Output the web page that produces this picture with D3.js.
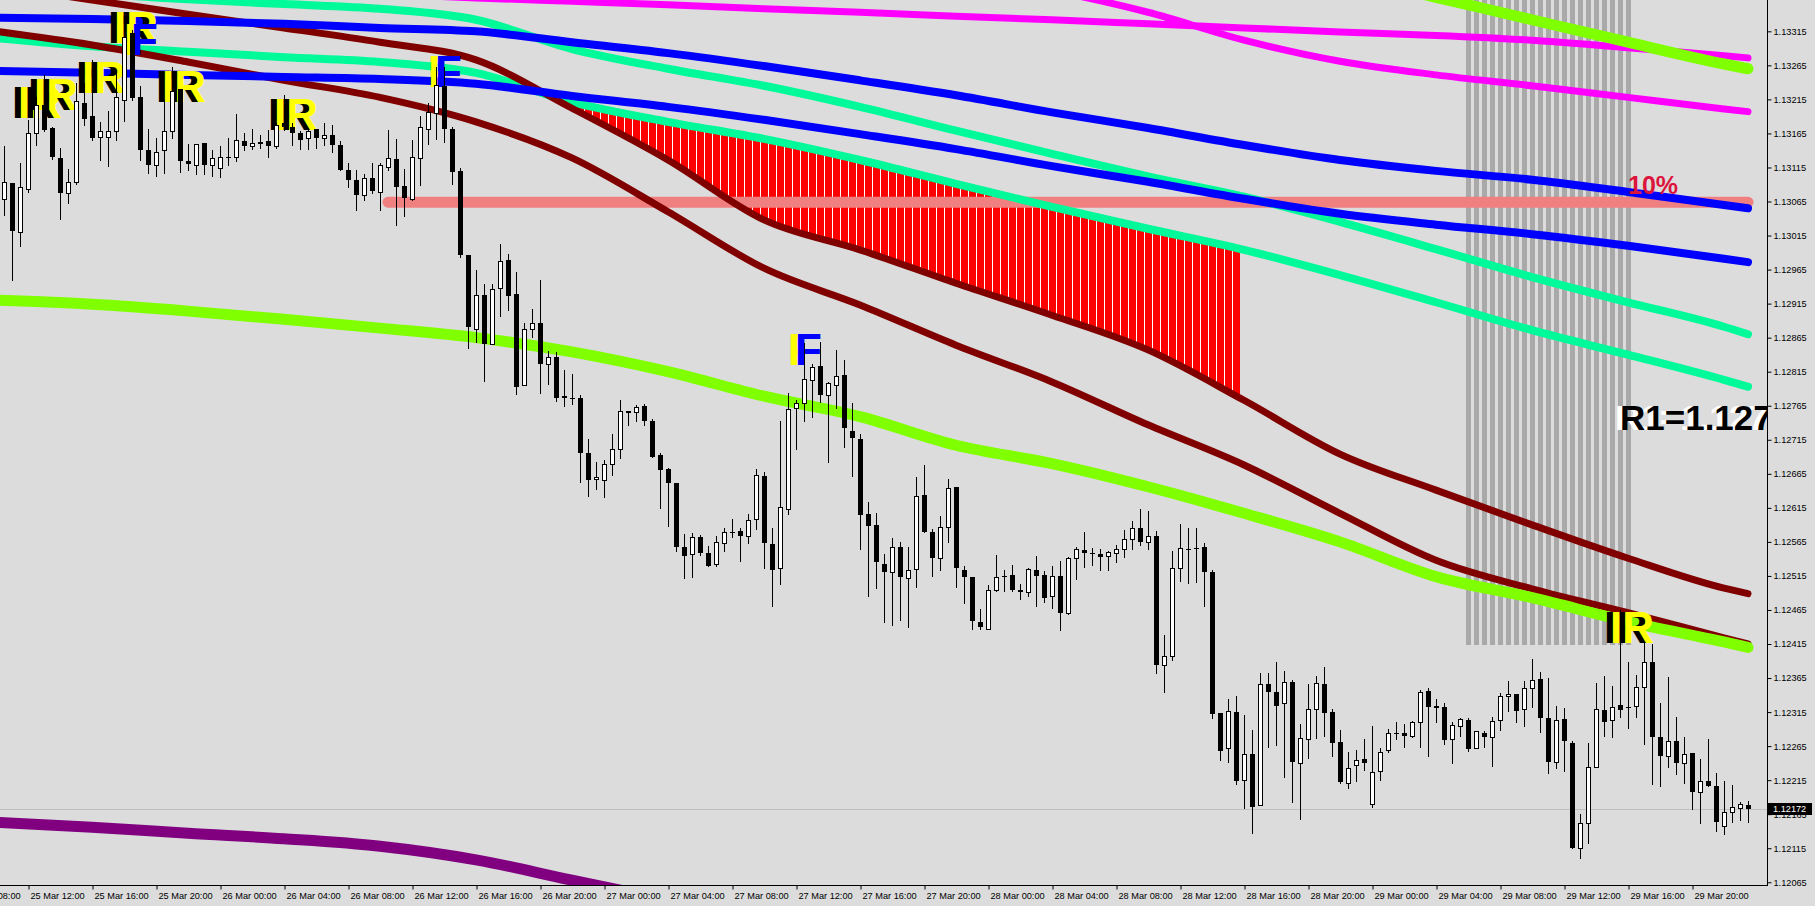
<!DOCTYPE html>
<html lang="en">
<head>
<meta charset="utf-8" />
<script src="https://cdn.jsdelivr.net/npm/d3@7/dist/d3.min.js"></script>
<style>
  html, body { margin: 0; padding: 0; background: #dcdcdc; overflow: hidden; }
  text { font-family: "Liberation Sans", Arial, sans-serif; }
</style>
</head>
<body>
<div id="container"></div>
<script>
const width = 1815, height = 906;
const plotRight = 1767, plotBottom = 885;

// EURUSD M30 candles, index 0 = 25 Mar 12:00, first visible index = -3
const firstIndex = -3;
const open = [1.13068,1.13092,1.13020,1.13084,1.13165,1.13207,1.13173,1.13129,1.13077,1.13094,1.13209,1.13190,1.13160,
  1.13160,1.13168,1.13214,1.13312,1.13218,1.13141,1.13118,1.13140,1.13168,1.13231,
  1.13125,1.13118,1.13151,1.13118,1.13114,1.13130,1.13130,1.13154,1.13146,1.13151,
  1.13154,1.13146,1.13180,1.13175,1.13165,1.13158,1.13171,1.13159,1.13163,1.13148,
  1.13112,1.13097,1.13074,1.13099,1.13079,1.13115,1.13127,1.13088,1.13069,1.13129,
  1.13171,1.13195,1.13235,1.13171,1.13110,1.12986,1.12878,1.12927,1.12855,1.12938,
  1.12979,1.12929,1.12795,1.12877,1.12886,1.12826,1.12836,1.12779,1.12776,1.12776,
  1.12695,1.12657,1.12656,1.12679,1.12701,1.12758,1.12756,1.12765,1.12743,1.12693,
  1.12672,1.12651,1.12557,1.12547,1.12572,1.12549,1.12532,1.12564,1.12579,1.12581,
  1.12573,1.12598,1.12662,1.12562,1.12526,1.12614,1.12761,1.12769,1.12803,1.12823,
  1.12781,1.12796,1.12810,1.12728,1.12716,1.12606,1.12590,1.12533,1.12521,1.12557,
  1.12512,1.12525,1.12634,1.12579,1.12541,1.12587,1.12645,1.12524,1.12514,1.12447,
  1.12437,1.12494,1.12515,1.12516,1.12495,1.12492,1.12524,1.12516,1.12485,1.12515,
  1.12460,1.12542,1.12553,1.12548,1.12547,1.12544,1.12548,1.12554,1.12569,1.12585,
  1.12565,1.12574,1.12384,1.12398,1.12526,1.12555,1.12556,1.12558,1.12521,1.12313,
  1.12262,1.12315,1.12215,1.12253,1.12178,1.12356,1.12344,1.12328,1.12359,1.12240,
  1.12275,1.12319,1.12356,1.12315,1.12271,1.12211,1.12238,1.12246,1.12180,1.12228,
  1.12260,1.12284,1.12284,1.12280,1.12300,1.12346,1.12324,1.12322,1.12275,1.12295,
  1.12303,1.12262,1.12285,1.12279,1.12303,1.12338,1.12341,1.12319,1.12350,1.12363,
  1.12307,1.12242,1.12305,1.12269,1.12115,1.12152,1.12234,1.12318,1.12304,1.12325,
  1.12323,1.12324,1.12352,1.12388,1.12278,1.12250,1.12272,1.12240,1.12255,1.12198,
  1.12214,1.12207,1.12148,1.12168,1.12174,1.12179];
const high = [1.13146,1.13092,1.13121,1.13185,1.13219,1.13251,1.13175,1.13143,1.13113,1.13239,1.13239,1.13273,1.13182,
  1.13198,1.13258,1.13317,1.13317,1.13235,1.13171,1.13159,1.13214,1.13263,1.13231,
  1.13149,1.13149,1.13151,1.13140,1.13147,1.13159,1.13193,1.13165,1.13171,1.13163,
  1.13170,1.13180,1.13221,1.13180,1.13169,1.13173,1.13171,1.13180,1.13178,1.13154,
  1.13121,1.13111,1.13106,1.13121,1.13121,1.13170,1.13157,1.13113,1.13155,1.13191,
  1.13209,1.13263,1.13263,1.13174,1.13114,1.12986,1.12965,1.12944,1.12944,1.13003,
  1.12988,1.12962,1.12886,1.12907,1.12950,1.12846,1.12844,1.12818,1.12812,1.12781,
  1.12716,1.12682,1.12685,1.12724,1.12774,1.12758,1.12766,1.12768,1.12746,1.12695,
  1.12673,1.12651,1.12577,1.12578,1.12575,1.12559,1.12574,1.12585,1.12599,1.12585,
  1.12606,1.12672,1.12667,1.12586,1.12743,1.12783,1.12774,1.12857,1.12827,1.12858,
  1.12800,1.12847,1.12832,1.12769,1.12724,1.12624,1.12607,1.12547,1.12570,1.12565,
  1.12557,1.12661,1.12678,1.12584,1.12603,1.12657,1.12646,1.12530,1.12514,1.12466,
  1.12501,1.12546,1.12524,1.12531,1.12503,1.12527,1.12544,1.12522,1.12529,1.12537,
  1.12543,1.12558,1.12580,1.12556,1.12555,1.12551,1.12561,1.12583,1.12596,1.12613,
  1.12610,1.12581,1.12428,1.12552,1.12591,1.12585,1.12586,1.12563,1.12523,1.12313,
  1.12334,1.12338,1.12310,1.12289,1.12372,1.12372,1.12388,1.12376,1.12362,1.12297,
  1.12356,1.12368,1.12381,1.12319,1.12289,1.12257,1.12259,1.12276,1.12294,1.12262,
  1.12290,1.12300,1.12298,1.12302,1.12348,1.12350,1.12334,1.12329,1.12301,1.12307,
  1.12306,1.12287,1.12287,1.12308,1.12343,1.12361,1.12341,1.12360,1.12393,1.12374,
  1.12365,1.12324,1.12321,1.12273,1.12165,1.12269,1.12357,1.12368,1.12353,1.12465,
  1.12389,1.12370,1.12418,1.12415,1.12329,1.12366,1.12308,1.12278,1.12255,1.12246,
  1.12275,1.12225,1.12214,1.12208,1.12183,1.12185];
const low = [1.13045,1.12949,1.12999,1.13079,1.13148,1.13168,1.13127,1.13039,1.13063,1.13091,1.13177,1.13155,1.13126,
  1.13117,1.13155,1.13183,1.13214,1.13126,1.13107,1.13103,1.13107,1.13159,1.13109,
  1.13111,1.13106,1.13106,1.13103,1.13101,1.13118,1.13124,1.13140,1.13142,1.13143,
  1.13131,1.13143,1.13170,1.13148,1.13142,1.13142,1.13143,1.13148,1.13137,1.13111,
  1.13087,1.13053,1.13067,1.13077,1.13053,1.13111,1.13030,1.13043,1.13067,1.13089,
  1.13149,1.13157,1.13153,1.13091,1.12983,1.12850,1.12859,1.12802,1.12855,1.12897,
  1.12905,1.12782,1.12795,1.12866,1.12784,1.12797,1.12772,1.12764,1.12768,1.12653,
  1.12633,1.12643,1.12631,1.12663,1.12688,1.12736,1.12742,1.12736,1.12689,1.12615,
  1.12589,1.12551,1.12512,1.12513,1.12546,1.12529,1.12529,1.12552,1.12572,1.12537,
  1.12564,1.12584,1.12526,1.12471,1.12503,1.12606,1.12701,1.12743,1.12748,1.12770,
  1.12682,1.12761,1.12704,1.12662,1.12554,1.12486,1.12497,1.12447,1.12443,1.12450,
  1.12440,1.12499,1.12579,1.12515,1.12523,1.12565,1.12499,1.12475,1.12437,1.12437,
  1.12437,1.12493,1.12493,1.12493,1.12481,1.12485,1.12471,1.12476,1.12468,1.12435,
  1.12459,1.12510,1.12528,1.12531,1.12523,1.12523,1.12535,1.12543,1.12554,1.12560,
  1.12555,1.12372,1.12344,1.12391,1.12508,1.12504,1.12506,1.12471,1.12306,1.12244,
  1.12242,1.12209,1.12174,1.12138,1.12178,1.12263,1.12267,1.12219,1.12183,1.12158,
  1.12248,1.12277,1.12280,1.12251,1.12211,1.12203,1.12214,1.12230,1.12176,1.12215,
  1.12257,1.12275,1.12264,1.12278,1.12263,1.12250,1.12300,1.12268,1.12240,1.12280,
  1.12258,1.12262,1.12264,1.12236,1.12289,1.12316,1.12300,1.12294,1.12323,1.12286,
  1.12225,1.12233,1.12228,1.12115,1.12100,1.12122,1.12234,1.12280,1.12278,1.12308,
  1.12291,1.12308,1.12268,1.12209,1.12207,1.12235,1.12224,1.12211,1.12173,1.12152,
  1.12206,1.12141,1.12136,1.12154,1.12156,1.12153];
const close = [1.13093,1.13021,1.13086,1.13166,1.13207,1.13170,1.13130,1.13077,1.13093,1.13213,1.13186,1.13158,1.13168,
  1.13168,1.13218,1.13307,1.13217,1.13140,1.13118,1.13138,1.13168,1.13228,1.13124,
  1.13120,1.13149,1.13118,1.13129,1.13131,1.13129,1.13156,1.13146,1.13151,1.13153,
  1.13146,1.13177,1.13174,1.13165,1.13156,1.13169,1.13159,1.13163,1.13148,1.13111,
  1.13096,1.13074,1.13099,1.13080,1.13119,1.13129,1.13087,1.13070,1.13130,1.13174,
  1.13197,1.13236,1.13171,1.13109,1.12986,1.12880,1.12927,1.12855,1.12936,1.12977,
  1.12926,1.12793,1.12877,1.12886,1.12827,1.12836,1.12777,1.12776,1.12776,1.12695,
  1.12656,1.12660,1.12679,1.12701,1.12758,1.12755,1.12763,1.12742,1.12689,1.12670,
  1.12651,1.12557,1.12545,1.12572,1.12549,1.12530,1.12565,1.12579,1.12579,1.12573,
  1.12597,1.12663,1.12563,1.12523,1.12616,1.12760,1.12769,1.12805,1.12822,1.12781,
  1.12798,1.12809,1.12732,1.12717,1.12604,1.12588,1.12535,1.12521,1.12557,1.12513,
  1.12523,1.12632,1.12579,1.12541,1.12587,1.12644,1.12526,1.12513,1.12449,1.12440,
  1.12495,1.12513,1.12513,1.12495,1.12492,1.12525,1.12515,1.12483,1.12515,1.12460,
  1.12542,1.12555,1.12548,1.12547,1.12543,1.12550,1.12554,1.12569,1.12585,1.12565,
  1.12573,1.12384,1.12397,1.12527,1.12556,1.12555,1.12554,1.12521,1.12312,1.12258,
  1.12316,1.12214,1.12253,1.12175,1.12356,1.12345,1.12324,1.12359,1.12241,1.12277,
  1.12319,1.12357,1.12314,1.12269,1.12212,1.12233,1.12244,1.12240,1.12227,1.12257,
  1.12285,1.12284,1.12280,1.12300,1.12344,1.12323,1.12321,1.12274,1.12296,1.12305,
  1.12261,1.12287,1.12278,1.12302,1.12339,1.12341,1.12316,1.12350,1.12362,1.12306,
  1.12241,1.12303,1.12272,1.12115,1.12152,1.12234,1.12319,1.12301,1.12323,1.12318,
  1.12323,1.12352,1.12389,1.12279,1.12250,1.12272,1.12240,1.12253,1.12198,1.12214,
  1.12206,1.12153,1.12168,1.12175,1.12180,1.12172];

// indicator lines, sampled at these candle indices
const knotIdx = [-4, 8, 20, 32, 44, 56, 68, 80, 92, 104, 116, 128, 140, 152, 164, 176, 188, 200, 212, 215];
const limeLower = [1.12920,1.12914,1.12904,1.12892,1.12879,1.12865,1.12844,1.12815,1.12779,1.12749,1.12707,1.12680,1.12646,1.12607,1.12565,1.12514,1.12483,1.12448,1.12418,1.12410];
const limeUpper = [null,null,null,null,null,null,null,null,null,null,null,null,null,null,1.13398,1.13365,1.13332,1.13299,1.13267,1.13260];
const magentaUpper = [null,null,null,null,1.13370,1.13364,1.13359,1.13354,1.13348,1.13343,1.13337,1.13332,1.13326,1.13320,1.13314,1.13309,1.13302,1.13291,1.13279,1.13276];
const magentaLower = [null,null,null,null,null,null,null,null,null,null,1.13400,1.13375,1.13343,1.13302,1.13271,1.13251,1.13235,1.13218,1.13201,1.13197];
const blueUpper = [1.13335,1.13333,1.13330,1.13326,1.13320,1.13315,1.13299,1.13283,1.13264,1.13243,1.13221,1.13196,1.13173,1.13148,1.13126,1.13110,1.13097,1.13079,1.13060,1.13055];
const blueLower = [1.13257,1.13254,1.13251,1.13248,1.13245,1.13238,1.13220,1.13204,1.13185,1.13164,1.13142,1.13117,1.13094,1.13069,1.13047,1.13031,1.13017,1.13000,1.12981,1.12976];
const tealUpper = [1.13383,1.13371,1.13362,1.13355,1.13348,1.13332,1.13289,1.13260,1.13235,1.13204,1.13169,1.13135,1.13102,1.13072,1.13035,1.12995,1.12954,1.12917,1.12881,1.12870];
const tealLower = [1.13305,1.13293,1.13285,1.13277,1.13270,1.13254,1.13211,1.13182,1.13157,1.13126,1.13091,1.13057,1.13025,1.12994,1.12957,1.12917,1.12876,1.12840,1.12803,1.12793];
const maroonUpper = [1.13382,1.13361,1.13340,1.13320,1.13299,1.13273,1.13202,1.13126,1.13038,1.12994,1.12945,1.12898,1.12847,1.12773,1.12694,1.12641,1.12590,1.12541,1.12497,1.12489];
const maroonLower = [1.13315,1.13295,1.13270,1.13243,1.13218,1.13182,1.13129,1.13050,1.12967,1.12913,1.12854,1.12800,1.12737,1.12678,1.12607,1.12538,1.12496,1.12461,1.12424,1.12415];
const purple = [1.12153,1.12146,1.12137,1.12129,1.12118,1.12098,1.12068,1.12039,null,null,null,null,null,null,null,null,null,null,null,null];

// zones / levels
const hatchRange = [64, 151];          // red histogram between tealLower and maroonUpper
const greyZone = { from: 180, to: 200, low: 1.12413 };
const level10 = { price: 1.13064, from: 45, to: 215 };

// markers: [candle index, baseline price]
const irMarks = [[-2, 1.13188], [0, 1.13199], [6, 1.13224], [10, 1.13298], [16, 1.13211], [30, 1.13170], [197, 1.12417]];
const fMarks = [[12, 1.13280], [50, 1.13233], [95, 1.12825]];
const textLabels = [
  { text: "10%", idx: 200, price: 1.13076, size: 25, fill: "#dc143c" },
  { text: "R1=1.1273", idx: 199, price: 1.12730, size: 35, fill: "#000000", halo: true }
];

const priceTicks = [1.12065,1.12115,1.12165,1.12215,1.12265,1.12315,1.12365,1.12415,1.12465,1.12515,1.12565,1.12615,1.12665,
  1.12715,1.12765,1.12815,1.12865,1.12915,1.12965,1.13015,1.13065,1.13115,1.13165,1.13215,1.13265,1.13315];
const timeLabels = ["25 Mar 08:00","25 Mar 12:00","25 Mar 16:00","25 Mar 20:00","26 Mar 00:00","26 Mar 04:00","26 Mar 08:00",
  "26 Mar 12:00","26 Mar 16:00","26 Mar 20:00","27 Mar 00:00","27 Mar 04:00","27 Mar 08:00","27 Mar 12:00","27 Mar 16:00",
  "27 Mar 20:00","28 Mar 00:00","28 Mar 04:00","28 Mar 08:00","28 Mar 12:00","28 Mar 16:00","28 Mar 20:00","29 Mar 00:00",
  "29 Mar 04:00","29 Mar 08:00","29 Mar 12:00","29 Mar 16:00","29 Mar 20:00"];
const lastPrice = close[close.length - 1];

// index of a label "DD Mar HH:MM" relative to 25 Mar 12:00, 30 minute bars
const labelIdx = s => {
  const day = +s.slice(0, 2), hr = +s.slice(7, 9);
  return ((day - 25) * 24 + hr - 12) * 2;
};

const svg = d3.select("#container").append("svg")
  .attr("width", width).attr("height", height).style("display", "block");
svg.append("rect").attr("width", width).attr("height", height).attr("fill", "#dcdcdc");
const defs = svg.append("defs");
defs.append("clipPath").attr("id", "plot").append("rect").attr("width", plotRight).attr("height", plotBottom);

const x = d3.scaleLinear().domain([-3, 215]).range([4, 1748]);
const y = d3.scaleLinear().domain([1.12061, 1.13361]).range([plotBottom, 0]);

const g = svg.append("g").attr("clip-path", "url(#plot)");

// grey vertical bars
g.append("g").selectAll("rect").data(d3.range(greyZone.from, greyZone.to + 1)).join("rect")
  .attr("x", d => Math.round(x(d)) - 2.5).attr("y", 0)
  .attr("width", 5).attr("height", y(greyZone.low))
  .attr("fill", "#a9a9a9").attr("shape-rendering", "crispEdges");

// red hatch between the teal and maroon lines
const pts = arr => knotIdx.map((i, k) => ({ i, v: arr[k] }));
const pat = defs.append("pattern").attr("id", "hatch").attr("patternUnits", "userSpaceOnUse")
  .attr("x", x(0) - 4).attr("y", 0).attr("width", 8).attr("height", 8);
pat.append("rect").attr("width", 8).attr("height", 8).attr("fill", "#ffffff");
pat.append("rect").attr("x", 1).attr("width", 7).attr("height", 8).attr("fill", "#ff0000");
defs.append("clipPath").attr("id", "hatchClip").append("rect")
  .attr("x", x(hatchRange[0])).attr("y", 0)
  .attr("width", x(hatchRange[1]) + 4 - x(hatchRange[0])).attr("height", plotBottom);
const band = knotIdx.map((i, k) => ({ i, top: tealLower[k], bot: maroonUpper[k] }));
g.append("path").datum(band)
  .attr("clip-path", "url(#hatchClip)")
  .attr("fill", "url(#hatch)")
  .attr("d", d3.area().x(d => x(d.i)).y0(d => y(d.bot)).y1(d => y(d.top)).curve(d3.curveMonotoneX));

// 10% level
g.append("line")
  .attr("x1", x(level10.from)).attr("x2", x(level10.to))
  .attr("y1", y(level10.price)).attr("y2", y(level10.price))
  .attr("stroke", "#f08080").attr("stroke-width", 11).attr("stroke-linecap", "round");

const line = d3.line().defined(d => d.v != null).x(d => x(d.i)).y(d => y(d.v)).curve(d3.curveMonotoneX);
const series = [
  [purple, "#800080", 11],
  [magentaUpper, "#ff00ff", 7],
  [magentaLower, "#ff00ff", 7],
  [tealUpper, "#00fa9a", 8],
  [tealLower, "#00fa9a", 8],
  [maroonLower, "#800000", 7],
  [maroonUpper, "#800000", 7],
  [blueUpper, "#0000ff", 8],
  [blueLower, "#0000ff", 8],
  [limeLower, "#7fff00", 11],
  [limeUpper, "#7fff00", 11]
];
g.append("g").selectAll("path").data(series).join("path")
  .attr("d", d => line(pts(d[0])))
  .attr("fill", "none").attr("stroke", d => d[1]).attr("stroke-width", d => d[2])
  .attr("stroke-linecap", "round").attr("stroke-linejoin", "round");

// current price line
g.append("line").attr("x1", 0).attr("x2", plotRight)
  .attr("y1", Math.round(y(lastPrice)) + 0.5).attr("y2", Math.round(y(lastPrice)) + 0.5)
  .attr("stroke", "#c0c0c0").attr("stroke-width", 1);

// marker labels
const marks = g.append("g").attr("font-weight", "bold").attr("font-size", 44);
irMarks.forEach(([i, p]) => {
  marks.append("text").attr("x", x(i)).attr("y", y(p)).attr("fill", "#000").text("IR");
  marks.append("text").attr("x", x(i) + 6).attr("y", y(p)).attr("fill", "#ffff00").text("IR");
});
fMarks.forEach(([i, p]) => {
  marks.append("text").attr("x", x(i)).attr("y", y(p)).attr("fill", "#ffff00").text("F");
  marks.append("text").attr("x", x(i) + 7).attr("y", y(p)).attr("fill", "#0000ff").text("F");
});
textLabels.forEach(d => {
  if (d.halo) {
    g.append("text").attr("x", x(d.idx) - 5).attr("y", y(d.price)).attr("font-size", d.size)
      .attr("font-weight", "bold").attr("fill", "#fff").text(d.text);
  }
  g.append("text").attr("x", x(d.idx)).attr("y", y(d.price)).attr("font-size", d.size)
    .attr("font-weight", "bold").attr("fill", d.fill).text(d.text);
});

// candles
const candles = open.map((o, k) => ({ i: k + firstIndex, o, h: high[k], l: low[k], c: close[k] }));
const cg = g.append("g").attr("shape-rendering", "crispEdges");
const cx = d => Math.round(x(d.i)) + 0.5;
cg.selectAll("line").data(candles).join("line")
  .attr("x1", cx).attr("x2", cx)
  .attr("y1", d => Math.round(y(d.h))).attr("y2", d => Math.round(y(d.l)) + 1)
  .attr("stroke", "#000").attr("stroke-width", 1);
cg.selectAll("rect").data(candles).join("rect")
  .each(function (d) {
    const top = Math.round(y(Math.max(d.o, d.c))), bot = Math.round(y(Math.min(d.o, d.c)));
    const r = d3.select(this);
    if (d.c > d.o) {
      r.attr("x", cx(d) - 2).attr("y", top + 0.5).attr("width", 4).attr("height", Math.max(bot - top, 1))
        .attr("fill", "#fff").attr("stroke", "#000").attr("stroke-width", 1);
    } else {
      r.attr("x", cx(d) - 2.5).attr("y", top).attr("width", 5).attr("height", Math.max(bot - top, 1))
        .attr("fill", "#000");
    }
  });

// axes frame
svg.append("line").attr("x1", plotRight + 0.5).attr("x2", plotRight + 0.5).attr("y1", 0).attr("y2", plotBottom + 1)
  .attr("stroke", "#000");
svg.append("line").attr("x1", 0).attr("x2", plotRight + 1).attr("y1", plotBottom + 0.5).attr("y2", plotBottom + 0.5)
  .attr("stroke", "#000");

const ya = svg.append("g").attr("transform", `translate(${plotRight + 0.5},0)`)
  .call(d3.axisRight(y).tickValues(priceTicks).tickFormat(d3.format(".5f")).tickSize(4).tickSizeOuter(0).tickPadding(2));
ya.select(".domain").remove();
ya.selectAll("text").attr("font-size", 9.2).attr("font-family", "Liberation Sans, Arial, sans-serif").attr("fill", "#000");

// last price tag
const lp = svg.append("g").attr("transform", `translate(${plotRight + 1},${Math.round(y(lastPrice))})`);
lp.append("rect").attr("x", 0).attr("y", -6).attr("width", 44).attr("height", 12).attr("fill", "#000");
lp.append("text").attr("x", 5).attr("y", 0).attr("dy", "0.34em").attr("font-size", 9.2)
  .attr("fill", "#fff").text(d3.format(".5f")(lastPrice));

const tickIdx = timeLabels.map(labelIdx);
const xa = svg.append("g").attr("transform", `translate(0,${plotBottom + 0.5})`)
  .call(d3.axisBottom(x).tickValues(tickIdx).tickFormat((d, k) => timeLabels[k]).tickSize(4).tickSizeOuter(0).tickPadding(3));
xa.select(".domain").remove();
xa.selectAll(".tick line").attr("transform", "translate(0.5,0)");
xa.selectAll("text").attr("text-anchor", "start").attr("x", 2)
  .attr("font-size", 9.2).attr("font-family", "Liberation Sans, Arial, sans-serif").attr("fill", "#000");
</script>
</body>
</html>
